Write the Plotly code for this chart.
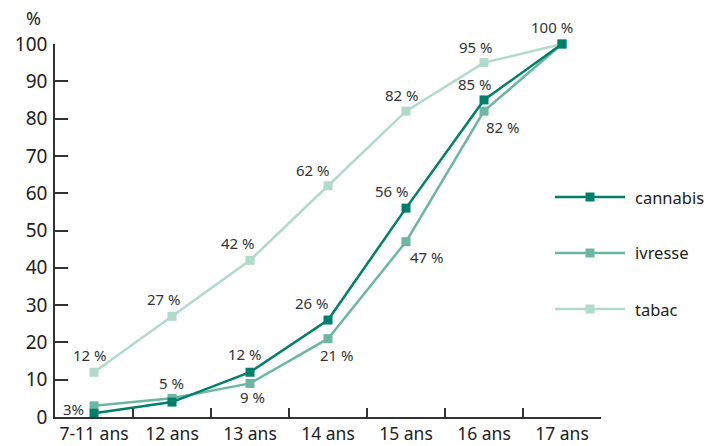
import plotly.graph_objects as go

categories = ["7-11 ans", "12 ans", "13 ans", "14 ans", "15 ans", "16 ans", "17 ans"]
cannabis = [1, 4, 12, 26, 56, 85, 100]
ivresse = [3, 5, 9, 21, 47, 82, 100]
tabac = [12, 27, 42, 62, 82, 95, 100]

series_names = ["cannabis", "ivresse", "tabac"]
series_colors = ["#00806a", "#6db7a2", "#b1dacb"]
series_values = [cannabis, ivresse, tabac]

# labels: (series index, category index, text, dx, dy)
labels = [
    (2, 0, "12 %", -4, -17), (1, 0, "3%", -21, 3),
    (1, 1, "5 %", -1, -15), (2, 1, "27 %", -8, -17),
    (0, 2, "12 %", -5, -18), (1, 2, "9 %", 2, 14), (2, 2, "42 %", -12, -17),
    (0, 3, "26 %", -16, -17), (1, 3, "21 %", 9, 16), (2, 3, "62 %", -15, -16),
    (0, 4, "56 %", -14, -17), (1, 4, "47 %", 21, 15), (2, 4, "82 %", -4, -16),
    (0, 5, "85 %", -9, -16), (1, 5, "82 %", 19, 16), (2, 5, "95 %", -8, -16),
    (2, 6, "100 %", -10, -17),
]

FONT = "Noto Sans"
W, H = 708, 446
L, R, T, B = 55, 107, 44, 29
pw, ph = W - L - R, H - T - B

fig = go.Figure()
for name, col, vals in reversed(list(zip(series_names, series_colors, series_values))):
    fig.add_trace(go.Scatter(
        x=categories, y=vals, mode="lines+markers", name=name,
        line=dict(color=col, width=2.5),
        marker=dict(symbol="square", size=9, color=col),
        cliponaxis=False, showlegend=False,
    ))

annotations = []
for si, ci, txt, dx, dy in labels:
    annotations.append(dict(
        x=categories[ci], y=series_values[si][ci], xref="x", yref="y",
        xanchor="center", yanchor="middle",
        text=txt, showarrow=False, xshift=dx, yshift=-dy,
        font=dict(family=FONT, size=15, color="#333333"),
    ))

annotations.append(dict(x=(33 - L) / pw, y=(H - B - 18) / ph, xref="paper", yref="paper",
                        xanchor="center", yanchor="middle",
                        text="%", showarrow=False, font=dict(family=FONT, size=18, color="#222222")))

# custom legend
shapes = []
for i, (name, col) in enumerate(zip(series_names, series_colors)):
    py = 197 + 56 * i
    yp = (H - B - py) / ph
    x0 = (555 - L) / pw
    x1 = (625 - L) / pw
    xc = (590 - L) / pw
    shapes.append(dict(type="line", xref="paper", yref="paper", x0=x0, x1=x1, y0=yp, y1=yp,
                       line=dict(color=col, width=2.5)))
    s = 4.5
    shapes.append(dict(type="rect", xref="paper", yref="paper",
                       x0=xc - s / pw, x1=xc + s / pw, y0=yp - s / ph, y1=yp + s / ph,
                       fillcolor=col, line=dict(width=0)))
    annotations.append(dict(x=(633 - L) / pw, y=yp, xref="paper", yref="paper",
                            xanchor="left", yanchor="middle",
                            text=name, showarrow=False,
                            font=dict(family=FONT, size=16.5, color="#222222")))

fig.update_layout(
    width=W, height=H, margin=dict(l=L, r=R, t=T, b=B, autoexpand=False),
    plot_bgcolor="white", paper_bgcolor="white",
    annotations=annotations, shapes=shapes,
    showlegend=False,
)
fig.update_xaxes(
    type="category", tickson="boundaries", ticks="inside", ticklen=9, tickwidth=1.5,
    tickcolor="#333333", showline=True, linecolor="#333333", linewidth=1.5,
    showgrid=False, zeroline=False, range=[-0.5, 6.5], automargin=False, tickangle=0,
    tickfont=dict(family=FONT, size=17.5, color="#222222"),
)
fig.update_yaxes(
    range=[0, 100], dtick=10, ticks="inside", ticklen=13, tickwidth=1.5,
    tickcolor="#333333", showline=True, linecolor="#333333", linewidth=1.5,
    showgrid=False, zeroline=False, automargin=False, ticklabelstandoff=2,
    tickfont=dict(family=FONT, size=19, color="#222222"),
)

fig.write_html("out.html")
